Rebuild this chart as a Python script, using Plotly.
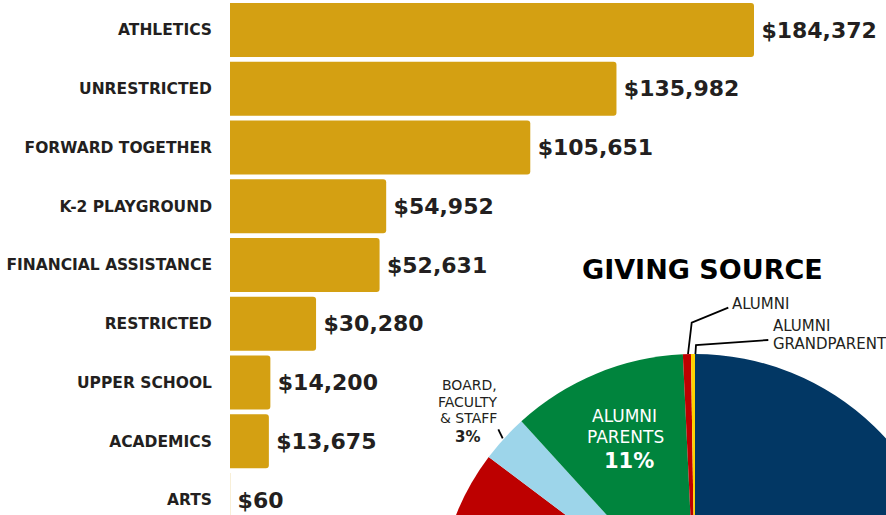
import plotly.graph_objects as go

# ---------------- data ----------------
categories = ["ATHLETICS", "UNRESTRICTED", "FORWARD TOGETHER", "K-2 PLAYGROUND",
              "FINANCIAL ASSISTANCE", "RESTRICTED", "UPPER SCHOOL", "ACADEMICS", "ARTS"]
amounts = [184372, 135982, 105651, 54952, 52631, 30280, 14200, 13675, 60]

# giving source (clockwise from 12 o'clock); the first two slices are mostly off-picture (estimated)
giving_labels = ["CURRENT PARENTS", "FRIENDS", "BOARD, FACULTY & STAFF",
                 "ALUMNI PARENTS", "ALUMNI", "ALUMNI GRANDPARENTS"]
giving_pct = [73.25, 12.0, 3.0, 11.0, 0.5, 0.25]
giving_colors = ["#023764", "#BD0000", "#9DD5EA", "#00843D", "#BD0000", "#FFD200"]

# ---------------- layout helpers ----------------
W, H = 960, 880          # canvas larger than window; the window shows the top-left 886x515
def px(x):
    return x / W
def py(y):
    return 1 - y / H

FONT = "DejaVu Sans"
INK = "#231F20"
GOLD = "#D4A012"

fig = go.Figure()

fig.add_trace(go.Bar(
    y=categories, x=amounts, orientation="h",
    marker=dict(color=GOLD, line=dict(width=0), cornerradius=3),
    texttemplate="\u2009$%{x:,}", textposition="outside", cliponaxis=False,
    textfont=dict(family=FONT, size=22, color=INK, weight="bold"),
    hoverinfo="skip", showlegend=False,
))

fig.add_trace(go.Pie(
    labels=giving_labels, values=giving_pct, sort=False,
    direction="clockwise", rotation=0,
    marker=dict(colors=giving_colors, line=dict(width=0)),
    textinfo="none", showlegend=False,
    domain=dict(x=[px(437), px(953)], y=[py(870), py(354)]),
))

annotations = [
    dict(text="<b>GIVING SOURCE</b>", x=px(702.5), y=py(269), size=27, color="#000000"),
    dict(text="ALUMNI", x=px(624.5), y=py(416), size=17, color="#FFFFFF"),
    dict(text="PARENTS", x=px(625), y=py(437), size=17, color="#FFFFFF"),
    dict(text="<b>11%</b>", x=px(629), y=py(460.5), size=21, color="#FFFFFF"),
    dict(text="BOARD,", x=px(469), y=py(385), size=14, color=INK),
    dict(text="FACULTY", x=px(468), y=py(401.5), size=14, color=INK),
    dict(text="& STAFF", x=px(468), y=py(418), size=14, color=INK),
    dict(text="<b>3%</b>", x=px(467), y=py(436.5), size=15, color=INK),
]
for a in annotations:
    fig.add_annotation(text=a["text"], x=a["x"], y=a["y"], xref="paper", yref="paper",
                       xanchor="center", yanchor="middle", showarrow=False, borderpad=0,
                       font=dict(family=FONT, size=a["size"], color=a["color"]))

left_labels = [
    dict(text="ALUMNI", x=px(730.5), y=py(303.5)),
    dict(text="ALUMNI", x=px(771.5), y=py(325.5)),
    dict(text="GRANDPARENTS", x=px(771.5), y=py(343.5)),
]
for a in left_labels:
    fig.add_annotation(text=a["text"], x=a["x"], y=a["y"], xref="paper", yref="paper",
                       xanchor="left", yanchor="middle", showarrow=False, borderpad=0,
                       font=dict(family=FONT, size=15, color=INK))

leaders = [
    [(688.0, 354), (691.7, 322.7), (728.3, 307.7)],
    [(695.4, 354), (696.0, 345.0), (768.3, 340.0)],
    [(498.3, 429.3), (502.7, 438.3)],
]
for pts in leaders:
    path = "M " + " L ".join(f"{px(x):.5f},{py(y):.5f}" for x, y in pts)
    fig.add_shape(type="path", path=path, xref="paper", yref="paper",
                  line=dict(color="#000000", width=1.8))

pitch = 58.75
band_top = 30 - pitch / 2
band_bottom = band_top + pitch * len(categories)

fig.update_layout(
    width=W, height=H,
    margin=dict(l=0, r=0, t=0, b=0),
    paper_bgcolor="#FFFFFF", plot_bgcolor="#FFFFFF",
    bargap=0.081,
    xaxis=dict(domain=[px(230), px(886)], range=[0, 656 / 0.0028421],
               visible=False, showgrid=False, zeroline=False, fixedrange=True),
    yaxis=dict(domain=[py(band_bottom), py(band_top)],
               categoryorder="array", categoryarray=categories,
               range=[len(categories) - 0.5, -0.5],
               showgrid=False, zeroline=False, showline=False, ticks="",
               ticklabelstandoff=17,
               tickfont=dict(family=FONT, size=15.5, color=INK, weight="bold"),
               fixedrange=True),
    font=dict(family=FONT, color=INK),
)

fig.write_html(
    "out.html",
    config={"displayModeBar": False, "staticPlot": True},
    post_script="document.documentElement.style.overflow='hidden';"
                "document.body.style.overflow='hidden';document.body.style.margin='0';",
)
